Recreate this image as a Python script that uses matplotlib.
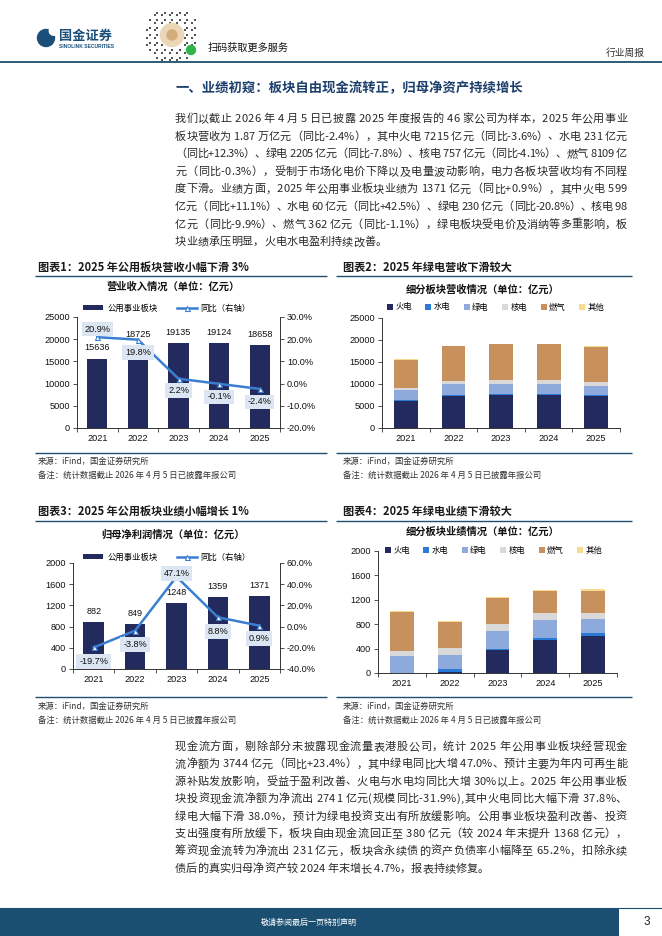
import matplotlib
matplotlib.use('Agg')
import matplotlib.pyplot as plt
from matplotlib.patches import Rectangle, Circle
from matplotlib.lines import Line2D
from matplotlib.font_manager import FontProperties
from matplotlib.ticker import FuncFormatter
import numpy as np

W, H = 662, 936
CJK = ['Noto Sans CJK SC', 'DejaVu Sans']
NUM = ['Liberation Sans', 'Noto Sans CJK SC', 'DejaVu Sans']
plt.rcParams['font.family'] = CJK
plt.rcParams['axes.unicode_minus'] = False

# ---------------- data ----------------
years = ['2021', '2022', '2023', '2024', '2025']
rev_total = [15636, 18725, 19135, 19124, 18658]
rev_yoy = [20.9, 19.8, 2.2, -0.1, -2.4]
seg_names = ['火电', '水电', '绿电', '核电', '燃气', '其他']
rev_thermal = [6200, 7200, 7450, 7485, 7215]
rev_hydro = [150, 200, 210, 206, 231]
rev_green = [2200, 2500, 2400, 2392, 2205]
rev_nuclear = [650, 750, 780, 789, 757]
rev_gas = [6300, 7900, 8150, 8133, 8109]
rev_other = [136, 175, 145, 119, 141]
np_total = [882, 849, 1248, 1359, 1371]
np_yoy = [-19.7, -3.8, 47.1, 8.8, 0.9]
np_thermal = [-140, 15, 385, 539, 599]
np_hydro = [6, 48, 8, 42, 60]
np_green = [265, 240, 298, 290, 230]
np_nuclear = [92, 105, 110, 109, 98]
np_gas = [645, 430, 435, 366, 362]
np_other = [14, 11, 12, 13, 22]

para1 = [
    "我们以截止 2026 年 4 月 5 日已披露 2025 年度报告的 46 家公司为样本，2025 年公用事业",
    "板块营收为 1.87 万亿元（同比-2.4%），其中火电 7215 亿元（同比-3.6%）、水电 231 亿元",
    "（同比+12.3%）、绿电 2205 亿元（同比-7.8%）、核电 757 亿元（同比-4.1%）、燃气 8109 亿",
    "元（同比-0.3%），受制于市场化电价下降以及电量波动影响，电力各板块营收均有不同程",
    "度下滑。业绩方面，2025 年公用事业板块业绩为 1371 亿元（同比+0.9%），其中火电 599",
    "亿元（同比+11.1%）、水电 60 亿元（同比+42.5%）、绿电 230 亿元（同比-20.8%）、核电 98",
    "亿元（同比-9.9%）、燃气 362 亿元（同比-1.1%），绿电板块受电价及消纳等多重影响，板",
    "块业绩承压明显，火电水电盈利持续改善。",
]
para2 = [
    "现金流方面，剔除部分未披露现金流量表港股公司，统计 2025 年公用事业板块经营现金",
    "流净额为 3744 亿元（同比+23.4%），其中绿电同比大增 47.0%、预计主要为年内可再生能",
    "源补贴发放影响，受益于盈利改善、火电与水电均同比大增 30%以上。2025 年公用事业板",
    "块投资现金流净额为净流出 2741 亿元(规模同比-31.9%),其中火电同比大幅下滑 37.8%、",
    "绿电大幅下滑 38.0%，预计为绿电投资支出有所放缓影响。公用事业板块盈利改善、投资",
    "支出强度有所放缓下，板块自由现金流回正至 380 亿元（较 2024 年末提升 1368 亿元），",
    "筹资现金流转为净流出 231 亿元，板块含永续债的资产负债率小幅降至 65.2%，扣除永续",
    "债后的真实归母净资产较 2024 年末增长 4.7%，报表持续修复。",
]

# ---------------- styles ----------------
NAVY = '#232a5e'
SEG_COLORS = ['#232a5e', '#2b7bd6', '#8eaadc', '#d9d9d9', '#c8905c', '#f7dc8f']
LINE = '#3a7ed2'
LBL_BG = '#dce6f2'
RULE = '#1f4e6e'
TXT = '#2a2a2a'

fig = plt.figure(figsize=(W / 100, H / 100), dpi=100)
fig.patch.set_facecolor('white')
bg = fig.add_axes([0, 0, 1, 1])
bg.set_xlim(0, W)
bg.set_ylim(H, 0)
bg.axis('off')
renderer = fig.canvas.get_renderer()

_wcache = {}


def cwidth(ch, size):
    key = (ch, size)
    if key not in _wcache:
        prop = FontProperties(family=CJK, size=size)
        w, h, d = renderer.get_text_width_height_descent(ch, prop, ismath=False)
        _wcache[key] = w
    return _wcache[key]


def just_line(x0, x1, yc, s, size, justify=True, color=TXT):
    ws = [cwidth(c, size) for c in s]
    if justify and len(s) > 1:
        g = ((x1 - x0) - sum(ws)) / (len(s) - 1)
    else:
        g = 0
    x = x0
    yb = yc + 0.36 * size / 0.72
    for c, w in zip(s, ws):
        if c != ' ':
            bg.text(x, yb, c, fontsize=size, va='baseline', ha='left', color=color)
        x += w + g


def rect_ax(x0, y0, x1, y1):
    return fig.add_axes([x0 / W, 1 - y1 / H, (x1 - x0) / W, (y1 - y0) / H])


def hline(x0, x1, y, lw=1.0, color=RULE):
    bg.plot([x0, x1], [y, y], color=color, lw=lw, solid_capstyle='butt')


# ---------------- header ----------------
bg.add_patch(Circle((46, 38), 8.5, color='#1a4f7a'))
bg.add_patch(Circle((53.5, 31), 4.2, color='white'))
bg.text(59, 36, '国金证券', fontsize=9.5, weight='bold', color='#1a4f7a', va='center')
bg.text(59, 46.5, 'SINOLINK SECURITIES', fontsize=3.6, weight='bold', color='#1a4f7a',
        va='center', family=NUM)
# mini-program code stand-in
qc = (172, 35)
for i in range(-11, 12):
    for j in range(-11, 12):
        r2 = i * i + j * j
        if 24 < r2 <= 121 and (i * 7 + j * 11 + i * j) % 3 == 0:
            bg.add_patch(Rectangle((qc[0] + i * 2.5 - 1.0, qc[1] + j * 2.5 - 1.0), 2.0, 2.0,
                                   color='#555555', lw=0))
bg.add_patch(Circle(qc, 11.5, color='#ecd6b8'))
bg.add_patch(Circle(qc, 5, color='#d4ac7c'))
bg.add_patch(Circle((191, 50), 4.5, color='#2fb34a'))
bg.text(208, 48, '扫码获取更多服务', fontsize=7.3, color='#111111', va='center')
bg.text(606, 53, '行业周报', fontsize=7, color='#333333', va='center')
hline(0, 662, 62, lw=1.3)

bg.text(176, 88, '一、业绩初窥：板块自由现金流转正，归母净资产持续增长', fontsize=9.6,
        weight='bold', color='#1c3f6c', va='center')

# ---------------- paragraphs ----------------
for k, s in enumerate(para1):
    just_line(175, 627, 118 + 17.6 * k, s, 8.0, justify=(k < len(para1) - 1))
for k, s in enumerate(para2):
    just_line(175, 627, 746 + 17.4 * k, s, 8.0, justify=(k < len(para2) - 1))

# ---------------- chart frames ----------------
bg.text(38, 267, '图表1：2025 年公用板块营收小幅下滑 3%', fontsize=8, weight='bold', va='center', color='#1a1a1a')
bg.text(343, 267, '图表2：2025 年绿电营收下滑较大', fontsize=8, weight='bold', va='center', color='#1a1a1a')
bg.text(38, 512, '图表3：2025 年公用板块业绩小幅增长 1%', fontsize=8, weight='bold', va='center', color='#1a1a1a')
bg.text(343, 512, '图表4：2025 年绿电业绩下滑较大', fontsize=8, weight='bold', va='center', color='#1a1a1a')
for y in (276, 453, 521, 697):
    hline(35, 327, y)
    hline(336, 632, y)
for (x, y0) in ((38, 461), (343, 461), (38, 706), (343, 706)):
    bg.text(x, y0, '来源：iFind，国金证券研究所', fontsize=6, color='#333333', va='center')
    bg.text(x, y0 + 14, '备注：统计数据截止 2026 年 4 月 5 日已披露年报公司', fontsize=6,
            color='#333333', va='center')

bg.text(173, 287, '营业收入情况（单位：亿元）', fontsize=7.4, weight='bold', ha='center', va='center', color='#111111')
bg.text(483, 290, '细分板块营收情况（单位：亿元）', fontsize=7.4, weight='bold', ha='center', va='center', color='#111111')
bg.text(173, 535, '归母净利润情况（单位：亿元）', fontsize=7.4, weight='bold', ha='center', va='center', color='#111111')
bg.text(483, 532, '细分板块业绩情况（单位：亿元）', fontsize=7.4, weight='bold', ha='center', va='center', color='#111111')

# ---------------- footer ----------------
bg.add_patch(Rectangle((0, 908), 619, 28, color='#1b4f72', lw=0))
hline(0, 662, 908, lw=0.8, color='#1b4f72')
bg.text(261, 922, '敬请参阅最后一页特别声明', fontsize=5.8, color='white', va='center')
bg.text(644, 922, '3', fontsize=8.5, color='#222222', va='center', family=NUM)


# ---------------- helpers for charts ----------------
def style_left(ax):
    for sp in ('top', 'right'):
        ax.spines[sp].set_visible(False)
    for sp in ('left', 'bottom'):
        ax.spines[sp].set_linewidth(0.7)
        ax.spines[sp].set_color('#333333')
    ax.tick_params(axis='y', direction='out', length=3, width=0.6, labelsize=6.6, pad=2,
                   colors='#333333', labelcolor='#111111')
    ax.set_xticks(range(len(years)))
    ax.set_xticklabels(years)
    ax.set_xticks(np.arange(-0.5, len(years), 1), minor=True)
    ax.tick_params(axis='x', which='major', length=0, labelsize=6.6, pad=4, labelcolor='#111111')
    ax.tick_params(axis='x', which='minor', length=3, width=0.6, direction='out', colors='#333333')
    ax.set_xlim(-0.5, len(years) - 0.5)
    for lab in ax.get_xticklabels() + ax.get_yticklabels():
        lab.set_family(NUM)


def style_right(axr):
    for sp in ('top', 'left', 'bottom'):
        axr.spines[sp].set_visible(False)
    axr.spines['right'].set_linewidth(0.7)
    axr.spines['right'].set_color('#333333')
    axr.tick_params(axis='y', direction='out', length=3, width=0.6, labelsize=6.6, pad=2,
                    colors='#333333', labelcolor='#111111')
    axr.yaxis.set_major_formatter(FuncFormatter(lambda v, p: f'{v:.1f}%'))
    for lab in axr.get_yticklabels():
        lab.set_family(NUM)


def combo_chart(rect, totals, yoy, ymax, ystep, rlim, rstep, yoy_dy, legend_y):
    ax = rect_ax(*rect)
    x = np.arange(len(years))
    ax.bar(x, totals, 0.5, color=NAVY, zorder=2)
    ax.set_ylim(0, ymax)
    ax.set_yticks(np.arange(0, ymax + 1, ystep))
    style_left(ax)
    for i, v in enumerate(totals):
        ax.annotate(f'{v}', (i, v), xytext=(0, 4.5), textcoords='offset points', ha='center',
                    va='bottom', fontsize=6.6, family=NUM, color='#111111')
    axr = ax.twinx()
    axr.set_xlim(-0.5, len(years) - 0.5)
    axr.plot(x, yoy, color=LINE, lw=1.8, marker='^', ms=3.6, mfc='white', mec=LINE, mew=0.8,
             zorder=3)
    axr.set_ylim(*rlim)
    axr.set_yticks(np.arange(rlim[0], rlim[1] + 0.1, rstep))
    style_right(axr)
    for i, v in enumerate(yoy):
        axr.annotate(f'{v:.1f}%', (i, v), xytext=(0, -yoy_dy[i] * 0.72), textcoords='offset points',
                     ha='center', va='center', fontsize=6.6, family=NUM, color='#111111',
                     bbox=dict(boxstyle='square,pad=0.3', fc=LBL_BG, ec='none'), zorder=4)
    handles = [Rectangle((0, 0), 1, 1, fc=NAVY),
               Line2D([], [], color=LINE, lw=1.8, marker='^', ms=3.6, mfc='white', mec=LINE, mew=0.8)]
    fig.legend(handles, ['公用事业板块', '同比（右轴）'], loc='center left',
               bbox_to_anchor=(83 / W, 1 - legend_y / H), ncol=2, frameon=False, fontsize=6,
               handlelength=2.4, handleheight=0.6, handletextpad=0.5, columnspacing=2.3,
               borderpad=0, borderaxespad=0)
    return ax, axr


def stack_chart(rect, series, ymax, ystep, legend_x, legend_y):
    ax = rect_ax(*rect)
    x = np.arange(len(years))
    pos = np.zeros(len(years))
    neg = np.zeros(len(years))
    bars = []
    for vals, col, name in zip(series, SEG_COLORS, seg_names):
        vals = np.asarray(vals, dtype=float)
        bottom = np.where(vals >= 0, pos, neg)
        b = ax.bar(x, vals, 0.5, bottom=bottom, color=col, label=name, zorder=2)
        bars.append(b)
        pos = pos + np.where(vals >= 0, vals, 0)
        neg = neg + np.where(vals < 0, vals, 0)
    ax.set_ylim(0, ymax)
    ax.set_yticks(np.arange(0, ymax + 1, ystep))
    style_left(ax)
    fig.legend(bars, seg_names, loc='center left', bbox_to_anchor=(legend_x / W, 1 - legend_y / H),
               ncol=6, frameon=False, fontsize=6, handlelength=0.7, handleheight=0.7,
               handletextpad=0.3, columnspacing=1.6, borderpad=0, borderaxespad=0)
    return ax


# ---------------- charts ----------------
combo_chart((77, 317, 280, 428), rev_total, rev_yoy, 25000, 5000, (-20, 30), 10,
            [-8, 13, 12, 13, 13], 308)
stack_chart((382, 318, 620, 428),
            [rev_thermal, rev_hydro, rev_green, rev_nuclear, rev_gas, rev_other],
            25000, 5000, 387, 307)
combo_chart((73, 563, 280, 669), np_total, np_yoy, 2000, 400, (-40, 60), 20,
            [14, 14, -3, 14, 13], 557)
stack_chart((378, 551, 617, 673),
            [np_thermal, np_hydro, np_green, np_nuclear, np_gas, np_other],
            2000, 400, 385, 550)

fig.savefig('out.png', dpi=100, facecolor='white')
